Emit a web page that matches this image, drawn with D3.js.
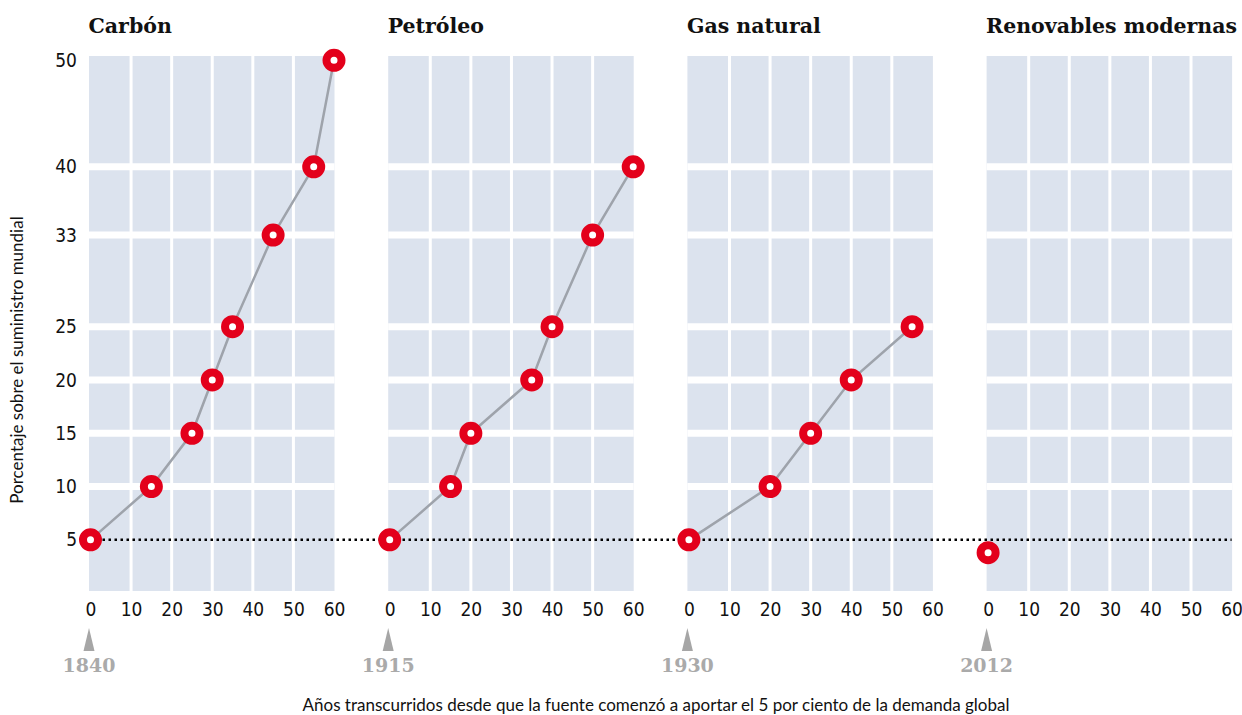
<!DOCTYPE html>
<html>
<head>
<meta charset="utf-8">
<script src="https://d3js.org/d3.v7.min.js"></script>
<style>
  body { margin: 0; background: #ffffff; }
  .tick text { font-family: "Liberation Sans Narrow", "DejaVu Sans Condensed", "DejaVu Sans", sans-serif; font-stretch: condensed; font-size: 19px; fill: #111; }
</style>
</head>
<body>
<div id="chart"></div>
<script>

// panels
var panelTitles = ["Carbón", "Petróleo", "Gas natural", "Renovables modernas"];
var startYears = ["1840", "1915", "1930", "2012"];

// years since the source reached 5% / share of world supply
var carbonYears = [0, 15, 25, 30, 35, 45, 55, 60];
var carbonShare = [5, 10, 15, 20, 25, 33.6, 40, 50];
var oilYears = [0, 15, 20, 35, 40, 50, 60];
var oilShare = [5, 10, 15, 20, 25, 33.6, 40];
var gasYears = [0, 20, 30, 40, 55];
var gasShare = [5, 10, 15, 20, 25];
var renewYears = [0];
var renewShare = [3.8];

// axis ticks
var xTicks = [0, 10, 20, 30, 40, 50, 60];
var yTicks = [5, 10, 15, 20, 25, 33.6, 40, 50];
var yTickLabels = ["5", "10", "15", "20", "25", "33", "40", "50"];

var seriesYears = [carbonYears, oilYears, gasYears, renewYears];
var seriesShare = [carbonShare, oilShare, gasShare, renewShare];

var width = 1242, height = 715;
var plotTop = 56, plotBottom = 591;
var firstLeft = 90.5, panelStep = 299.2, panelWidth = 243.5;

var svg = d3.select("#chart").append("svg")
    .attr("width", width)
    .attr("height", height);

var y = d3.scaleLinear()
    .domain([0.2, 50.4])
    .range([plotBottom, plotTop]);

var red = "#e3001b";
var panels = [];

panelTitles.forEach(function(title, i) {
  var left = firstLeft + i * panelStep;
  var x = d3.scaleLinear().domain([0, 60]).range([left, left + panelWidth]);
  var g = svg.append("g");

  // background
  g.append("rect")
    .attr("x", x(0) - 1.5)
    .attr("y", plotTop)
    .attr("width", x(60) - x(0) + 2)
    .attr("height", plotBottom - plotTop)
    .attr("fill", "#dce3ee");

  // white grid
  g.selectAll(".vgrid")
    .data(xTicks.filter(function(d) { return d > 0 && d < 60; }))
    .enter().append("line")
      .attr("x1", function(d) { return x(d); })
      .attr("x2", function(d) { return x(d); })
      .attr("y1", plotTop).attr("y2", plotBottom)
      .attr("stroke", "#fff").attr("stroke-width", 3);
  g.selectAll(".hgrid")
    .data(yTicks.filter(function(d) { return d > 5 && d < 50; }))
    .enter().append("line")
      .attr("x1", x(0) - 1.5).attr("x2", x(60) + 0.5)
      .attr("y1", function(d) { return y(d); })
      .attr("y2", function(d) { return y(d); })
      .attr("stroke", "#fff").attr("stroke-width", 7);

  // panel title
  g.append("text")
    .attr("x", x(0) - 2)
    .attr("y", 33)
    .attr("font-family", "DejaVu Serif")
    .attr("font-weight", "bold")
    .attr("font-size", 20.5)
    .attr("fill", "#111")
    .text(title);

  // x axis
  var xAxis = g.append("g")
    .attr("transform", "translate(0," + plotBottom + ")")
    .call(d3.axisBottom(x).tickValues(xTicks).tickSize(0).tickPadding(12));
  xAxis.select(".domain").remove();

  // start marker and year
  g.append("path")
    .attr("d", "M" + (x(0) - 1.5) + ",628 L" + (x(0) + 4) + ",651 L" + (x(0) - 7) + ",651 Z")
    .attr("fill", "#a6a6a6");
  g.append("text")
    .attr("x", x(0) - 1.5)
    .attr("y", 672)
    .attr("text-anchor", "middle")
    .attr("font-family", "DejaVu Serif")
    .attr("font-weight", "bold")
    .attr("font-size", 19)
    .attr("fill", "#aaaaaa")
    .text(startYears[i]);

  if (i === 0) {
    var yAxis = g.append("g")
      .attr("transform", "translate(" + (x(0) - 1.5) + ",0)")
      .call(d3.axisLeft(y).tickValues(yTicks).tickSize(0).tickPadding(12)
        .tickFormat(function(d, k) { return yTickLabels[k]; }));
    yAxis.select(".domain").remove();
  }
  panels.push(x);
});

// dotted 5% line across all panels
svg.append("line")
  .attr("x1", panels[0](0)).attr("x2", panels[3](60))
  .attr("y1", y(5)).attr("y2", y(5))
  .attr("stroke", "#000")
  .attr("stroke-width", 2.5)
  .attr("stroke-dasharray", "2.5,3.5");

// series
panels.forEach(function(x, i) {
  var pts = seriesYears[i].map(function(yr, k) { return [yr, seriesShare[i][k]]; });
  var line = d3.line()
    .x(function(d) { return x(d[0]); })
    .y(function(d) { return y(d[1]); });
  svg.append("path")
    .datum(pts)
    .attr("d", line)
    .attr("fill", "none")
    .attr("stroke", "#9ea3ab")
    .attr("stroke-width", 2.5);
  svg.selectAll(".dot" + i)
    .data(pts)
    .enter().append("circle")
      .attr("cx", function(d) { return x(d[0]); })
      .attr("cy", function(d) { return y(d[1]); })
      .attr("r", 7.5)
      .attr("fill", "#fff")
      .attr("stroke", red)
      .attr("stroke-width", 8);
});

// axis titles
svg.append("text")
  .attr("transform", "translate(23,360) rotate(-90)")
  .attr("text-anchor", "middle")
  .attr("font-family", "Lato, sans-serif")
  .attr("font-size", 17)
  .attr("fill", "#111")
  .text("Porcentaje sobre el suministro mundial");

svg.append("text")
  .attr("x", 656)
  .attr("y", 711)
  .attr("text-anchor", "middle")
  .attr("font-family", "Lato, sans-serif")
  .attr("font-size", 17)
  .attr("fill", "#111")
  .text("Años transcurridos desde que la fuente comenzó a aportar el 5 por ciento de la demanda global");

</script>
</body>
</html>
